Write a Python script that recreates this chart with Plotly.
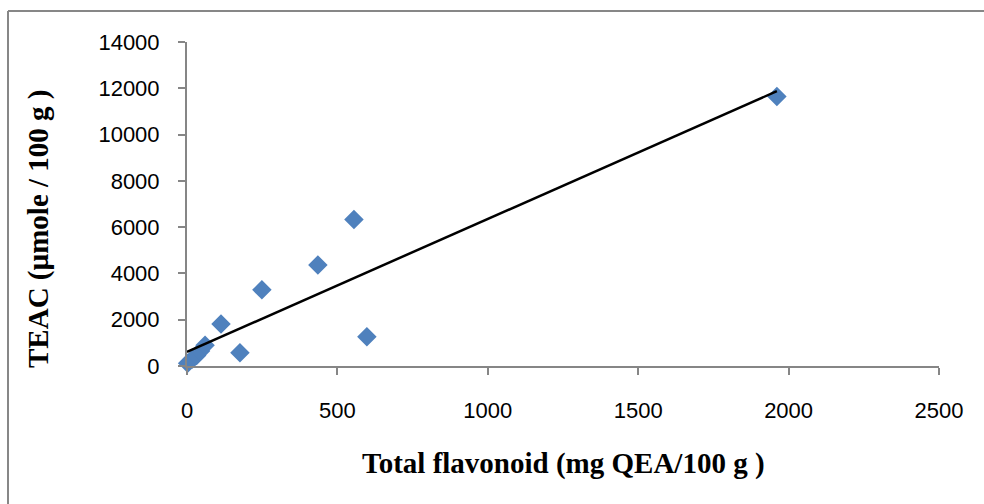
import numpy as np
import plotly.graph_objects as go

# Data
flavonoid = [2, 18, 32, 45, 60, 113, 176, 249, 435, 555, 598, 1961]
teac = [120, 300, 450, 650, 900, 1820, 570, 3290, 4360, 6330, 1260, 11650]

x_ticks = [0, 500, 1000, 1500, 2000, 2500]
y_ticks = [0, 2000, 4000, 6000, 8000, 10000, 12000, 14000]

x_title = "Total flavonoid (mg QEA/100 g )"
y_title = "TEAC (µmole / 100 g )"

# Linear trendline derived from data
slope, intercept = np.polyfit(flavonoid, teac, 1)
tx = [0, max(flavonoid)]
ty = [intercept + slope * v for v in tx]

fig = go.Figure()
fig.add_trace(go.Scatter(
    x=flavonoid, y=teac, mode="markers",
    marker=dict(symbol="diamond", size=15, color="#4F81BD", line=dict(width=0)),
    showlegend=False, cliponaxis=False,
))
fig.add_trace(go.Scatter(
    x=tx, y=ty, mode="lines",
    line=dict(color="black", width=2.5),
    showlegend=False, cliponaxis=False,
))

L, R, T, B = 187, 45, 42, 138
W, H = 984, 504
pw, ph = W - L - R, H - T - B

def px(x):
    return (x - L) / pw

def py(y):
    return (H - B - y) / ph

axis_color = "#868686"
fig.update_layout(
    width=W, height=H,
    margin=dict(l=L, r=R, t=T, b=B),
    paper_bgcolor="white", plot_bgcolor="white",
    xaxis=dict(
        range=[0, 2500], tickvals=x_ticks, ticktext=[str(v) for v in x_ticks],
        showgrid=False, zeroline=False, showline=True, linecolor=axis_color, linewidth=2,
        ticks="outside", ticklen=7, tickcolor=axis_color, tickwidth=1.5,
        tickfont=dict(family="Liberation Sans, Arial", size=22, color="black"),
        ticklabelstandoff=17,
    ),
    yaxis=dict(
        range=[0, 14000], tickvals=y_ticks, ticktext=[str(v) for v in y_ticks],
        showgrid=False, zeroline=False, showline=True, linecolor=axis_color, linewidth=2,
        ticks="outside", ticklen=7, tickcolor=axis_color, tickwidth=1.5,
        tickfont=dict(family="Liberation Sans, Arial", size=22, color="black"),
        ticklabelstandoff=14,
    ),
    annotations=[
        dict(text="<b>" + x_title + "</b>", xref="paper", yref="paper",
             x=px(563), y=py(463), showarrow=False, xanchor="center", yanchor="middle",
             font=dict(family="Liberation Serif, Times New Roman", size=29, color="black")),
        dict(text="<b>" + y_title + "</b>", xref="paper", yref="paper",
             x=px(38), y=py(229), showarrow=False, xanchor="center", yanchor="middle",
             textangle=-90,
             font=dict(family="Liberation Serif, Times New Roman", size=29, color="black")),
    ],
    shapes=[
        dict(type="line", xref="paper", yref="paper", x0=px(8), x1=px(8), y0=py(520), y1=py(11),
             line=dict(color="#878787", width=2)),
        dict(type="line", xref="paper", yref="paper", x0=px(8), x1=px(1000), y0=py(11), y1=py(11),
             line=dict(color="#878787", width=2)),
    ],
)

fig.write_html("out.html")
